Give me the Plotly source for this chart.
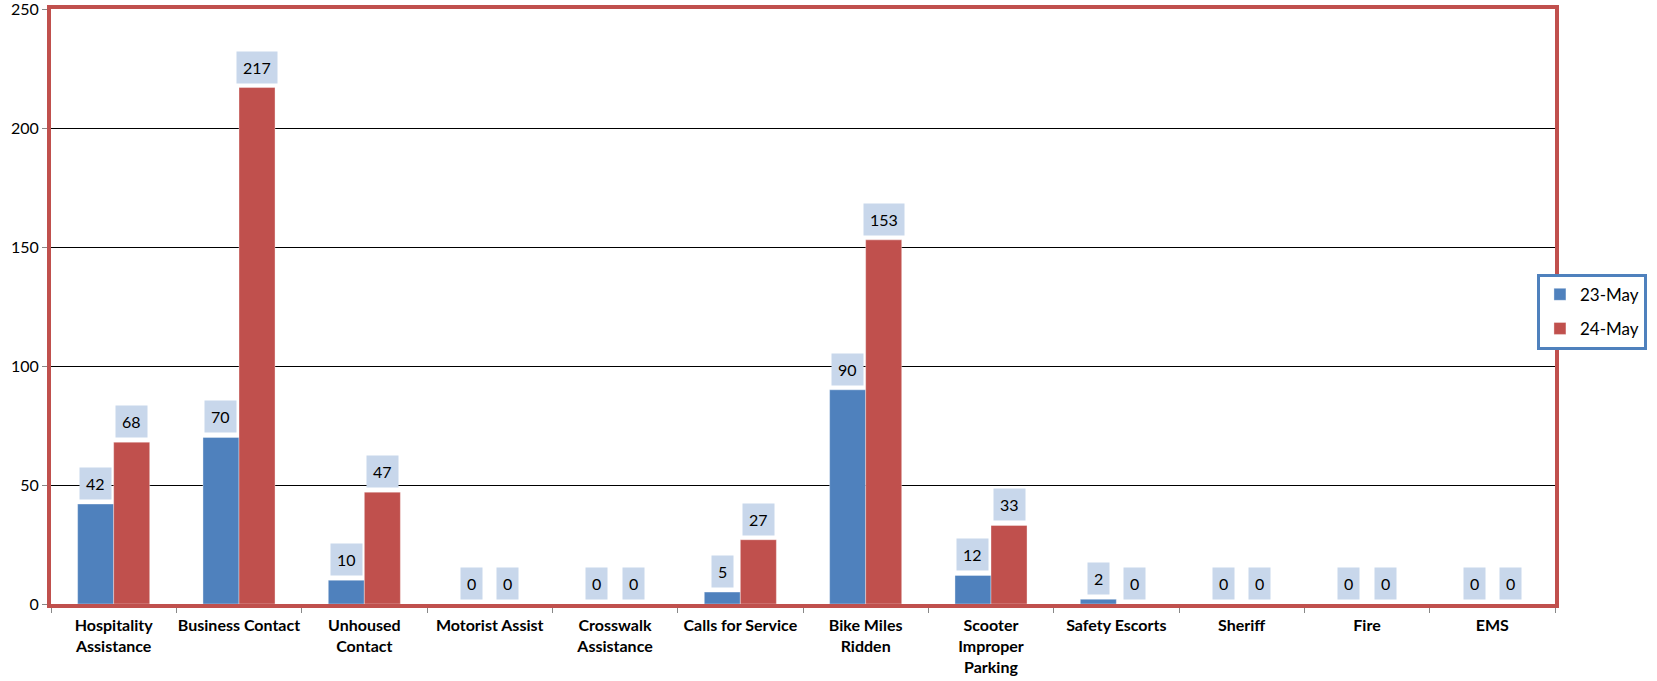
import plotly.graph_objects as go

categories = ["Hospitality<br>Assistance", "Business Contact", "Unhoused<br>Contact",
              "Motorist Assist", "Crosswalk<br>Assistance", "Calls for Service",
              "Bike Miles<br>Ridden", "Scooter<br>Improper<br>Parking", "Safety Escorts",
              "Sheriff", "Fire", "EMS"]
series_names = ["23-May", "24-May"]
may23 = [42, 70, 10, 0, 0, 5, 90, 12, 2, 0, 0, 0]
may24 = [68, 217, 47, 0, 0, 27, 153, 33, 0, 0, 0, 0]
y_ticks = [0, 50, 100, 150, 200, 250]

colors = ["#4f81bd", "#c0504d"]
RED = "#c0504d"
FONT = "Lato"

W, H = 1657, 681
ml, mr, mt, mb = 51, 102, 9, 77
bargap = 0.425
plot_w = W - ml - mr
cat_w = plot_w / len(categories)
bar_w = cat_w * (1 - bargap) / 2

fig = go.Figure()
for name, vals, col in zip(series_names, [may23, may24], colors):
    fig.add_trace(go.Bar(x=categories, y=vals, name=name, legendgroup=name,
                         marker=dict(color=col, line=dict(width=0.6, color="rgba(255,255,255,0.6)"))))

annotations = []
for k, vals in enumerate([may23, may24]):
    shift = (k - 0.5) * bar_w
    for c, v in zip(categories, vals):
        annotations.append(dict(
            x=c, y=v, xref="x", yref="y", text=str(v), showarrow=False,
            xanchor="center", yanchor="bottom", xshift=shift, yshift=4,
            bgcolor="#c8d7eb", borderpad=6,
            font=dict(family=FONT, size=16, color="#000000")))

fig.update_layout(
    width=W, height=H,
    margin=dict(l=ml, r=mr, t=mt, b=mb, autoexpand=False),
    paper_bgcolor="white", plot_bgcolor="white",
    barmode="group", bargap=bargap, bargroupgap=0,
    font=dict(family=FONT, color="#000000"),
    showlegend=True,
    legend=dict(x=0.988, y=0.555, xanchor="left", yanchor="top",
                bgcolor="white", bordercolor="#4f81bd", borderwidth=3,
                font=dict(family=FONT, size=17, color="#000000"),
                itemwidth=30, traceorder="grouped", tracegroupgap=9),
    annotations=annotations,
)
fig.update_xaxes(
    type="category", tickson="boundaries", ticks="outside", ticklen=5,
    tickcolor="#888888", tickwidth=1, tickangle=0, ticklabelstandoff=4,
    showline=True, linecolor=RED, linewidth=4, mirror=True,
    tickfont=dict(family=FONT, size=16, color="#000000", weight="bold"),
    showgrid=False,
)
fig.update_yaxes(
    range=[0, 250], tickvals=y_ticks, ticktext=[str(t) for t in y_ticks],
    ticks="outside", ticklen=5, tickcolor="#888888",
    showline=True, linecolor=RED, linewidth=4, mirror=True,
    showgrid=True, gridcolor="#000000", gridwidth=1,
    zeroline=False, ticklabeloverflow="allow",
    tickfont=dict(family=FONT, size=16, color="#000000"),
)

fig.write_html("out.html", config={"displayModeBar": False},
               post_script="document.body.style.margin='0';")
